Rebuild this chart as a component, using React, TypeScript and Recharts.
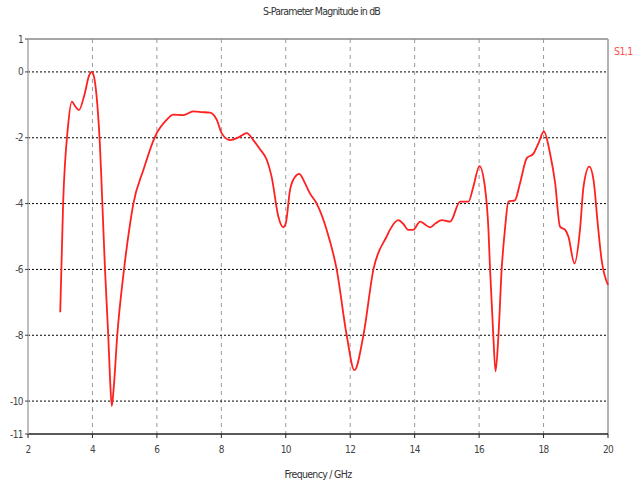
import React from 'react';
import { LineChart, Line, XAxis, YAxis, CartesianGrid, ReferenceLine } from 'recharts';

const freq = [
  3.0, 3.09, 3.24, 3.36, 3.47, 3.58, 3.75, 3.9, 3.98, 4.05, 4.13, 4.22, 4.34, 4.39, 4.49, 4.55, 4.6, 4.66, 4.77, 4.98,
  5.14, 5.27, 5.58, 5.94, 6.3, 6.51, 6.82, 7.13, 7.4, 7.65, 7.86, 8.01, 8.27, 8.55, 8.79, 8.99, 9.2, 9.41, 9.56, 9.77,
  9.92, 10.0, 10.13, 10.28, 10.42, 10.58, 10.75, 10.96, 11.27, 11.58, 11.89, 12.13, 12.41, 12.72, 13.13, 13.23, 13.49,
  13.65, 13.8, 13.95, 14.17, 14.3, 14.48, 14.65, 14.84, 15.1, 15.41, 15.67, 15.82, 16.01, 16.18, 16.29, 16.34, 16.44,
  16.51, 16.6, 16.7, 16.8, 16.91, 17.11, 17.27, 17.48, 17.68, 17.84, 18.01, 18.2, 18.36, 18.51, 18.67, 18.77, 18.96,
  19.13, 19.24, 19.42, 19.55, 19.69, 19.8, 20.0,
];

const s11 = [
  -7.3, -4.0, -1.67, -0.9, -1.05, -1.16, -0.7, -0.1, 0.0, -0.15, -0.75, -2.0, -4.8, -6.0, -8.0, -9.4, -10.15, -9.6, -8.0, -6.0,
  -4.8, -4.0, -2.98, -1.97, -1.46, -1.3, -1.31, -1.2, -1.22, -1.24, -1.46, -1.86, -2.07, -1.98, -1.86, -2.07, -2.35, -2.67, -3.18, -4.4,
  -4.72, -4.6, -3.6, -3.2, -3.1, -3.35, -3.69, -4.0, -4.8, -6.0, -8.0, -9.06, -8.0, -6.0, -5.0, -4.8, -4.5,
  -4.62, -4.8, -4.8, -4.55, -4.62, -4.72, -4.6, -4.5, -4.55, -3.94, -3.94, -3.49, -2.86, -3.49, -4.8, -6.0, -8.0,
  -9.1, -8.0, -6.0, -4.8, -3.94, -3.9, -3.38, -2.62, -2.49, -2.17, -1.81, -2.47, -3.38, -4.7, -4.8, -5.0, -5.82,
  -4.8, -3.49, -2.88, -3.28, -4.7, -5.7, -6.47,
];

const xTicks = [2, 4, 6, 8, 10, 12, 14, 16, 18, 20];
const yTicks = [1, 0, -2, -4, -6, -8, -10, -11];
const xGrid = [4, 6, 8, 10, 12, 14, 16, 18];
const yGrid = [0, -2, -4, -6, -8, -10];

const data = freq.map((f, i) => ({ f, s11: s11[i] }));

const font = '"DejaVu Sans Condensed", "Liberation Sans Narrow", sans-serif';
const tickStyle = { fill: '#444', fontSize: 10, fontFamily: font, letterSpacing: -0.6 };

const App: React.FC = () => {
  return (
    <div style={{ position: 'absolute', left: 0, top: 0, width: 643, height: 485, background: '#fff', fontFamily: font }}>
      <div style={{ position: 'absolute', top: 5, width: 643, textAlign: 'center', fontSize: 10.5, letterSpacing: -0.8, color: '#333' }}>
        S-Parameter Magnitude in dB
      </div>
      <div style={{ position: 'absolute', left: 614, top: 45, fontSize: 10.5, letterSpacing: -0.6, color: '#ff5050' }}>S1,1</div>
      <LineChart width={643} height={485} data={data} margin={{ top: 39, right: 35, left: 0, bottom: 0 }}>
        <CartesianGrid horizontal={false} verticalValues={xGrid} stroke="#999" strokeDasharray="4 4" />
        <CartesianGrid vertical={false} horizontalValues={yGrid} stroke="#000" strokeDasharray="2 2" />
        <XAxis
          dataKey="f"
          type="number"
          domain={[2, 20]}
          ticks={xTicks}
          height={51}
          axisLine={{ stroke: '#222', strokeWidth: 1.5 }}
          tickLine={{ stroke: '#222' }}
          tickSize={4}
          tickMargin={8}
          tick={tickStyle}
          label={{ value: 'Frequency / GHz', position: 'insideBottom', offset: 7, fill: '#333', fontSize: 10.5, fontFamily: font, letterSpacing: -0.7 }}
        />
        <YAxis
          type="number"
          domain={[-11, 1]}
          ticks={yTicks}
          width={28}
          interval={0}
          axisLine={{ stroke: '#aaa', strokeWidth: 1.5 }}
          tickLine={{ stroke: '#444' }}
          tickSize={3}
          tick={tickStyle}
        />
        <ReferenceLine y={1} stroke="#888" strokeWidth={1.5} />
        <ReferenceLine x={20} stroke="#999" strokeWidth={1.5} />
        <Line
          type="monotone"
          dataKey="s11"
          stroke="#ff2020"
          strokeWidth={1.8}
          dot={false}
          isAnimationActive={false}
        />
      </LineChart>
    </div>
  );
};

export default App;
